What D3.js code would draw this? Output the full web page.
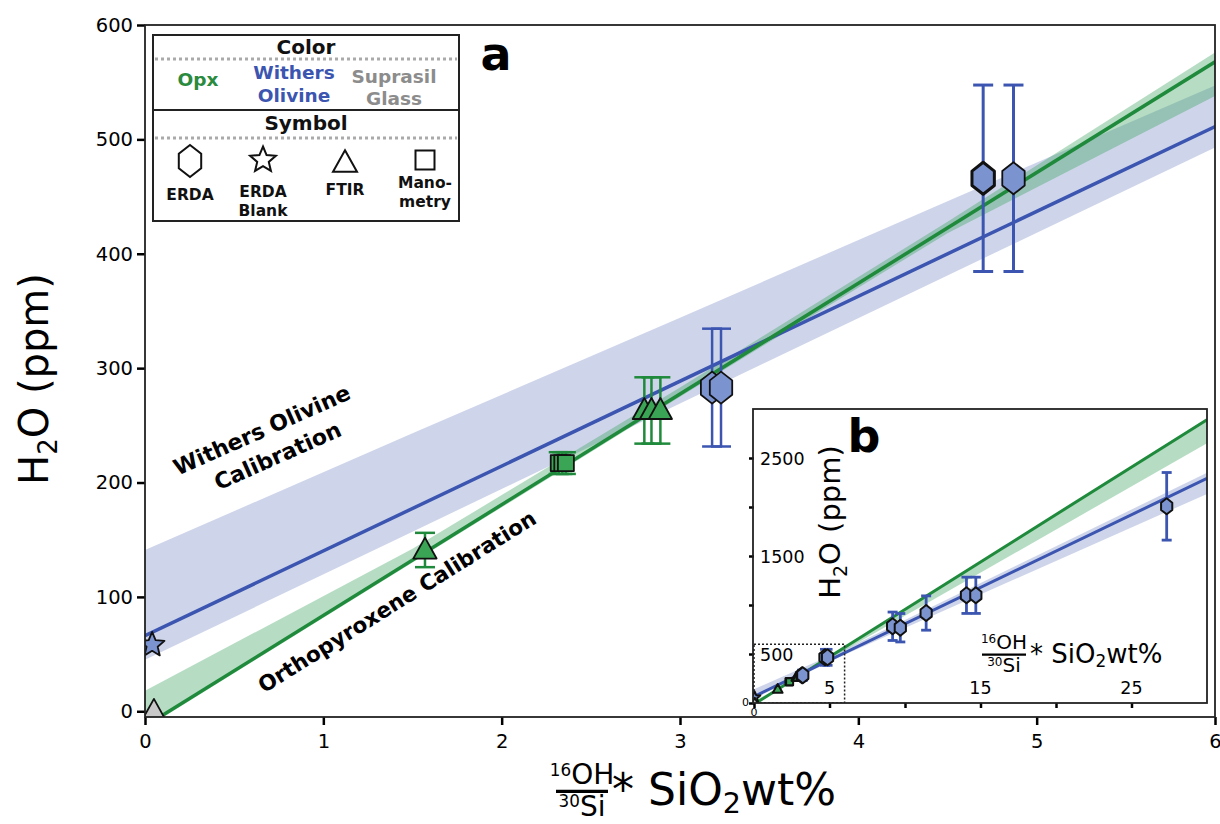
<!DOCTYPE html>
<html>
<head>
<meta charset="utf-8">
<script src="https://cdn.jsdelivr.net/npm/d3@7"></script>
<style>
body { margin: 0; background: #fff; }
text { font-family: "DejaVu Sans", sans-serif; }
</style>
</head>
<body>
<div id="canvas"></div>
<script>
// fit lines, [x, H2O ppm] at the ends of the inset range
const opxLine = [[0, -13], [30, 2891]];
const olivineLine = [[0, 66], [30, 2292]];

// uncertainty bands: [x, low, high]
const opxBand = [[0, -15, 18], [1.5, 130, 142], [3, 275, 283], [4.5, 418, 428], [6, 538, 576], [30, 2650, 2905]];
const olivineBand = [[0, 45, 141], [1.5, 157, 243], [3, 269, 344], [4.5, 381, 446], [6, 493, 547], [30, 2133, 2350]];

// measured standards (panel a, also shown in b)
const pointX = [0.04, 0.05, 1.57, 2.32, 2.34, 2.36, 2.80, 2.84, 2.89, 3.18, 3.23, 4.70, 4.87];
const pointY = [58, 0, 141, 217, 217, 217, 263, 263, 263, 283, 283, 466, 466];
const pointErr = [0, 0, 15, 9.5, 9.5, 9.5, 29, 29, 29, 51.5, 51.5, 81.5, 81.5];
const pointSet = ["olivine", "glass", "opx", "opx", "opx", "opx", "opx", "opx", "opx", "olivine", "olivine", "olivine", "olivine"];
const pointShape = ["star", "triangle", "triangle", "square", "square", "square", "triangle", "triangle", "triangle", "hexagon", "hexagon", "hexagon", "hexagon"];

// extra high-water olivines only in panel b
const insetX = [9.18, 9.69, 11.4, 14.07, 14.69, 27.33];
const insetY = [783, 768, 918, 1099, 1099, 2007];
const insetErr = [145, 145, 175, 185, 185, 345];

const xTicks = [0, 1, 2, 3, 4, 5, 6];
const yTicks = [0, 100, 200, 300, 400, 500, 600];
const insetXTicks = [0, 5, 10, 15, 20, 25];
const insetYTicks = [0, 500, 1000, 1500, 2000, 2500];
const insetXLabels = [5, 15, 25];
const insetYLabels = [500, 1500, 2500];

const colors = {
    opx: {line: "#1f8a3b", fill: "#3aa655", band: "#2e9d52", text: "#2a8a3e"},
    olivine: {line: "#3b55b0", fill: "#7b93cf", band: "#4a62b0", text: "#3b55b0"},
    glass: {line: "#888", fill: "#c8c8c8", text: "#8c8c8c"}
};

const svg = d3.select("#canvas")
    .append("svg")
    .attr("width", 1220)
    .attr("height", 824);

// shape paths centred on 0,0
function shapePath(shape, s) {
    if (shape === "hexagon") {
        const w = s * 0.7, h = s;
        return `M0,${-h}L${w},${-h * 0.45}L${w},${h * 0.45}L0,${h}L${-w},${h * 0.45}L${-w},${-h * 0.45}Z`;
    }
    if (shape === "triangle") {
        const w = s * 0.75;
        return `M0,${-s * 0.8}L${w},${s * 0.55}L${-w},${s * 0.55}Z`;
    }
    if (shape === "square") {
        return `M${-s / 2},${-s / 2}h${s}v${s}h${-s}Z`;
    }
    // star
    let p = "";
    for (let i = 0; i < 10; i++) {
        const r = i % 2 === 0 ? s : s * 0.45;
        const a = -Math.PI / 2 + i * Math.PI / 5;
        p += (i === 0 ? "M" : "L") + (r * Math.cos(a)).toFixed(2) + "," + (r * Math.sin(a)).toFixed(2);
    }
    return p + "Z";
}

// ---------- panel a ----------
const x = d3.scaleLinear().domain([0, 6]).range([145, 1215]);
const y = d3.scaleLinear().domain([-5, 600]).range([717, 25]);

svg.append("clipPath").attr("id", "clipA")
    .append("rect").attr("x", 145).attr("y", 25).attr("width", 1070).attr("height", 692);

const plotA = svg.append("g").attr("clip-path", "url(#clipA)");

const bandArea = (xs, ys) => d3.area().x(d => xs(d[0])).y0(d => ys(d[1])).y1(d => ys(d[2]));
const fitLine = (xs, ys) => d3.line().x(d => xs(d[0])).y(d => ys(d[1]));

plotA.append("path").attr("d", bandArea(x, y)(olivineBand))
    .attr("fill", colors.olivine.band).attr("fill-opacity", 0.27);
plotA.append("path").attr("d", bandArea(x, y)(opxBand))
    .attr("fill", colors.opx.band).attr("fill-opacity", 0.35);
plotA.append("path").attr("d", fitLine(x, y)(olivineLine))
    .attr("stroke", colors.olivine.line).attr("stroke-width", 3.5).attr("fill", "none");
plotA.append("path").attr("d", fitLine(x, y)(opxLine))
    .attr("stroke", colors.opx.line).attr("stroke-width", 3.5).attr("fill", "none");

const idx = d3.range(pointX.length);

// error bars
const errA = plotA.append("g");
idx.filter(i => pointErr[i] > 0).forEach(i => {
    const c = colors[pointSet[i]].line;
    const cx = x(pointX[i]);
    const top = y(pointY[i] + pointErr[i]), bot = y(pointY[i] - pointErr[i]);
    const sw = pointErr[i] > 60 ? 3 : 2.5;
    errA.append("line").attr("x1", cx).attr("x2", cx).attr("y1", top).attr("y2", bot)
        .attr("stroke", c).attr("stroke-width", sw);
    [top, bot].forEach(yy => errA.append("line")
        .attr("x1", cx - 10).attr("x2", cx + 10).attr("y1", yy).attr("y2", yy)
        .attr("stroke", c).attr("stroke-width", sw));
});

const markerSizeA = {hexagon: 16, triangle: 15.5, square: 16, star: 13};
plotA.append("g").selectAll("path")
    .data(idx)
    .join("path")
    .attr("transform", i => `translate(${x(pointX[i])},${y(pointY[i])})`)
    .attr("d", i => shapePath(pointShape[i], markerSizeA[pointShape[i]]))
    .attr("fill", i => colors[pointSet[i]].fill)
    .attr("stroke", "#111")
    .attr("stroke-width", i => i === 11 ? 3 : 1.8)
    .attr("stroke-linejoin", "round");

// axes
const axisB = svg.append("g")
    .attr("transform", "translate(0,717)")
    .call(d3.axisBottom(x).tickValues(xTicks).tickSize(8).tickPadding(9).tickFormat(d3.format("d")));
const axisL = svg.append("g")
    .attr("transform", "translate(145,0)")
    .call(d3.axisLeft(y).tickValues(yTicks).tickSize(8).tickPadding(4));
[axisB, axisL].forEach(g => {
    g.select(".domain").remove();
    g.selectAll(".tick line").attr("stroke", "#000").attr("stroke-width", 2.5);
    g.selectAll(".tick text").attr("font-size", 19.5).attr("fill", "#000")
        .attr("font-family", "DejaVu Sans");
});

svg.append("rect").attr("x", 145).attr("y", 25).attr("width", 1070).attr("height", 692)
    .attr("fill", "none").attr("stroke", "#222").attr("stroke-width", 1.8);

// axis titles
const yTitle = svg.append("text")
    .attr("transform", "translate(48,379) rotate(-90)")
    .attr("text-anchor", "middle")
    .attr("font-size", 40);
yTitle.append("tspan").text("H");
yTitle.append("tspan").attr("font-size", 26).attr("dy", 9).text("2");
yTitle.append("tspan").attr("dy", -9).text("O (ppm)");

// stacked 16OH / 30Si fraction followed by "* SiO2wt%"
function fractionLabel(g, nf, half, rf) {
    const num = g.append("text").attr("x", 0).attr("y", -nf * 0.28).attr("text-anchor", "middle").attr("font-size", nf);
    num.append("tspan").attr("font-size", nf * 0.6).attr("dy", -nf * 0.3).text("16");
    num.append("tspan").attr("dy", nf * 0.3).text("OH");
    g.append("line").attr("x1", -half).attr("x2", half).attr("y1", -nf * 0.02).attr("y2", -nf * 0.02)
        .attr("stroke", "#000").attr("stroke-width", nf * 0.12);
    const den = g.append("text").attr("x", 0).attr("y", nf * 0.85).attr("text-anchor", "middle").attr("font-size", nf);
    den.append("tspan").attr("font-size", nf * 0.6).attr("dy", -nf * 0.3).text("30");
    den.append("tspan").attr("dy", nf * 0.3).text("Si");
    const rest = g.append("text").attr("x", half + 4).attr("y", rf * 0.3).attr("font-size", rf);
    rest.append("tspan").text("* SiO");
    rest.append("tspan").attr("font-size", rf * 0.65).attr("dy", rf * 0.18).text("2");
    rest.append("tspan").attr("dy", -rf * 0.18).text("wt%");
}
fractionLabel(svg.append("g").attr("transform", "translate(582,792)"), 28, 26, 44);

// calibration labels
const wl = svg.append("g").attr("transform", "translate(265,437) rotate(-24)");
wl.append("text").attr("text-anchor", "middle").attr("font-size", 22).attr("font-weight", "bold").text("Withers Olivine");
wl.append("text").attr("x", 4).attr("y", 30).attr("text-anchor", "middle").attr("font-size", 22).attr("font-weight", "bold").text("Calibration");
svg.append("text").attr("transform", "translate(401,608) rotate(-32)")
    .attr("text-anchor", "middle").attr("font-size", 21.5).attr("font-weight", "bold")
    .text("Orthopyroxene Calibration");

svg.append("text").attr("x", 496).attr("y", 70).attr("text-anchor", "middle")
    .attr("font-size", 46).attr("font-weight", "bold").text("a");

// ---------- legend ----------
const lg = svg.append("g");
lg.append("rect").attr("x", 153).attr("y", 35).attr("width", 306).attr("height", 186)
    .attr("fill", "#fff").attr("stroke", "#222").attr("stroke-width", 2);
lg.append("line").attr("x1", 153).attr("x2", 459).attr("y1", 110).attr("y2", 110)
    .attr("stroke", "#222").attr("stroke-width", 2);
[59, 138].forEach(yy => lg.append("line").attr("x1", 155).attr("x2", 457).attr("y1", yy).attr("y2", yy)
    .attr("stroke", "#aaa").attr("stroke-width", 3).attr("stroke-dasharray", "3,3"));
const lt = (tx, ty, s, fs, c) => lg.append("text").attr("x", tx).attr("y", ty).attr("text-anchor", "middle")
    .attr("font-size", fs).attr("font-weight", "bold").attr("fill", c || "#111").text(s);
lt(306, 54, "Color", 20);
lt(306, 130, "Symbol", 20);
lt(198, 86, "Opx", 18.5, colors.opx.text);
lt(294, 79, "Withers", 18.5, colors.olivine.text);
lt(294, 102, "Olivine", 18.5, colors.olivine.text);
lt(394, 83, "Suprasil", 18.5, colors.glass.text);
lt(394, 105, "Glass", 18.5, colors.glass.text);
const legendShapes = ["hexagon", "star", "triangle", "square"];
const legendX = [190, 263, 345, 425];
const legendY = [161, 160, 163, 160];
const legendSize = [16, 13.5, 16, 19];
legendShapes.forEach((s, i) => lg.append("path")
    .attr("transform", `translate(${legendX[i]},${legendY[i]})`)
    .attr("d", shapePath(s, legendSize[i]))
    .attr("fill", "none").attr("stroke", "#111").attr("stroke-width", 2));
lt(190, 200, "ERDA", 15.5);
lt(263, 197, "ERDA", 15.5);
lt(263, 216, "Blank", 15.5);
lt(345, 195, "FTIR", 15.5);
lt(425, 188, "Mano-", 15.5);
lt(425, 207, "metry", 15.5);

// ---------- panel b (inset) ----------
const xi = d3.scaleLinear().domain([0, 30]).range([754, 1207]);
const yi = d3.scaleLinear().domain([0, 3000]).range([703, 409]);

svg.append("rect").attr("x", 753).attr("y", 409).attr("width", 454).attr("height", 294)
    .attr("fill", "#fff");
svg.append("clipPath").attr("id", "clipB")
    .append("rect").attr("x", 753).attr("y", 409).attr("width", 454).attr("height", 294);
const plotB = svg.append("g").attr("clip-path", "url(#clipB)");

plotB.append("path").attr("d", bandArea(xi, yi)(olivineBand))
    .attr("fill", colors.olivine.band).attr("fill-opacity", 0.27);
plotB.append("path").attr("d", bandArea(xi, yi)(opxBand))
    .attr("fill", colors.opx.band).attr("fill-opacity", 0.35);
plotB.append("path").attr("d", fitLine(xi, yi)(opxLine))
    .attr("stroke", colors.opx.line).attr("stroke-width", 3).attr("fill", "none");
plotB.append("path").attr("d", fitLine(xi, yi)(olivineLine))
    .attr("stroke", colors.olivine.line).attr("stroke-width", 3).attr("fill", "none");

// dotted outline of panel a's range
plotB.append("rect").attr("x", xi(0)).attr("y", yi(600))
    .attr("width", xi(6) - xi(0)).attr("height", yi(0) - yi(600))
    .attr("fill", "none").attr("stroke", "#222").attr("stroke-width", 1.5).attr("stroke-dasharray", "2,2");

const allX = pointX.concat(insetX);
const allY = pointY.concat(insetY);
const allErr = pointErr.concat(insetErr);
const allSet = pointSet.concat(insetX.map(() => "olivine"));
const allShape = pointShape.concat(insetX.map(() => "hexagon"));
const idxB = d3.range(allX.length);

idxB.filter(i => allErr[i] > 40).forEach(i => {
    const cx = xi(allX[i]);
    const top = yi(allY[i] + allErr[i]), bot = yi(allY[i] - allErr[i]);
    plotB.append("line").attr("x1", cx).attr("x2", cx).attr("y1", top).attr("y2", bot)
        .attr("stroke", colors.olivine.line).attr("stroke-width", 2.8);
    [top, bot].forEach(yy => plotB.append("line")
        .attr("x1", cx - 5).attr("x2", cx + 5).attr("y1", yy).attr("y2", yy)
        .attr("stroke", colors.olivine.line).attr("stroke-width", 2.8));
});

const markerSizeB = {hexagon: 8, triangle: 6.5, square: 7, star: 6};
plotB.append("g").selectAll("path")
    .data(idxB)
    .join("path")
    .attr("transform", i => `translate(${xi(allX[i])},${yi(allY[i])})`)
    .attr("d", i => shapePath(allShape[i], markerSizeB[allShape[i]]))
    .attr("fill", i => colors[allSet[i]].fill)
    .attr("stroke", "#111")
    .attr("stroke-width", 2)
    .attr("stroke-linejoin", "round");

const axisBi = svg.append("g").attr("transform", "translate(0,703)")
    .call(d3.axisBottom(xi).tickValues(insetXTicks).tickSize(5).tickFormat(""));
const axisLi = svg.append("g").attr("transform", "translate(754,0)")
    .call(d3.axisLeft(yi).tickValues(insetYTicks).tickSize(5).tickFormat(""));
[axisBi, axisLi].forEach(g => {
    g.select(".domain").remove();
    g.selectAll(".tick line").attr("stroke", "#000").attr("stroke-width", 2.5);
});
svg.append("rect").attr("x", 753).attr("y", 409).attr("width", 454).attr("height", 294)
    .attr("fill", "none").attr("stroke", "#222").attr("stroke-width", 1.8);

svg.append("g").selectAll("text").data(insetYLabels).join("text")
    .attr("x", 760).attr("y", d => yi(d) + 7).attr("font-size", 17.5).text(d => d);
svg.append("g").selectAll("text").data(insetXLabels).join("text")
    .attr("x", d => xi(d)).attr("y", 694).attr("text-anchor", "middle").attr("font-size", 17.5).text(d => d);
svg.append("text").attr("x", 749).attr("y", 706).attr("text-anchor", "end").attr("font-size", 11).text("0");
svg.append("text").attr("x", 754).attr("y", 716).attr("text-anchor", "middle").attr("font-size", 11).text("0");

const yTitleB = svg.append("text")
    .attr("transform", "translate(840,522) rotate(-90)")
    .attr("text-anchor", "middle")
    .attr("font-size", 29);
yTitleB.append("tspan").text("H");
yTitleB.append("tspan").attr("font-size", 19).attr("dy", 7).text("2");
yTitleB.append("tspan").attr("dy", -7).text("O (ppm)");

fractionLabel(svg.append("g").attr("transform", "translate(1004,655)"), 20, 22, 26);

svg.append("text").attr("x", 864).attr("y", 452).attr("text-anchor", "middle")
    .attr("font-size", 46).attr("font-weight", "bold").text("b");
</script>
</body>
</html>
